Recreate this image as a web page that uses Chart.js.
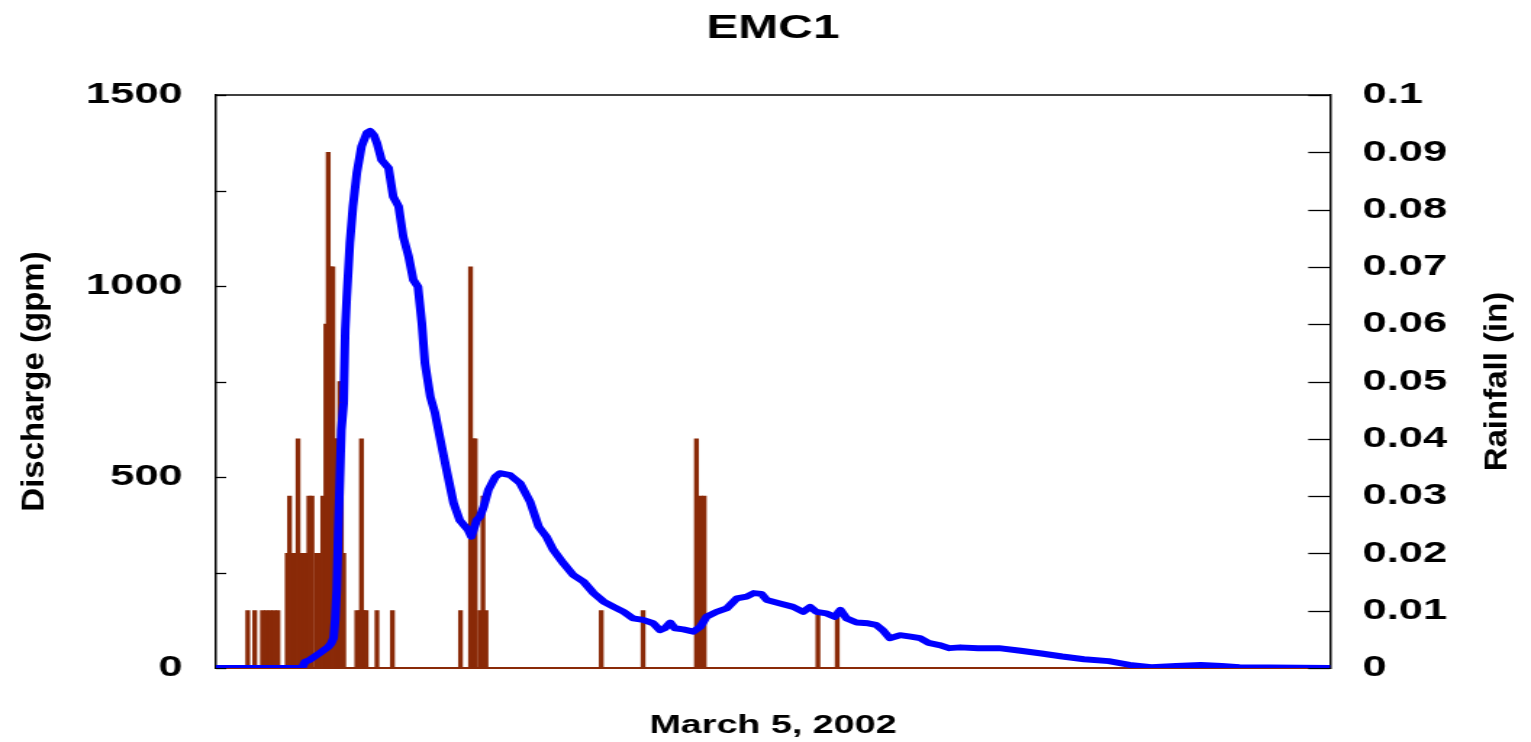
<!DOCTYPE html>
<html><head><meta charset="utf-8">
<script src="https://cdn.jsdelivr.net/npm/chart.js@4.4.1/dist/chart.umd.min.js"></script>
<style>
html,body{margin:0;padding:0;background:#fff;overflow:hidden}
#c{display:block;width:1531px !important;height:742px !important}
</style></head><body>
<canvas id="c" width="1056" height="742" style="width:1531px;height:742px"></canvas>
<script>
const chartTitle = 'EMC1';
const xAxisTitle = 'March 5, 2002';
const leftAxisTitle = 'Discharge (gpm)';
const rightAxisTitle = 'Rainfall (in)';

// time = minutes after midnight
const dischargeTimes = [0,111,115,121,134,145,149,152,154,156,158,160,162,165,167,169,173,177,182,188,195,199,204,208,214,223,229,236,242,249,255,261,266,270,277,283,290,298,307,315,326,330,337,341,346,352,361,367,380,393,406,417,427,436,449,462,475,488,501,514,527,539,552,565,574,580,587,593,604,617,626,634,647,660,673,686,695,705,712,729,746,759,768,776,789,800,807,815,828,843,853,862,871,884,898,910,921,935,948,962,985,1012,1040,1067,1094,1122,1154,1181,1209,1241,1273,1300,1323,1440];
const dischargeGpm = [0,0,16,21,39,55,65,79,126,204,361,492,623,694,885,971,1113,1208,1296,1365,1401,1406,1395,1374,1330,1309,1234,1208,1129,1077,1016,998,903,798,710,668,597,518,432,387,361,344,387,396,422,466,500,510,505,484,435,370,344,309,274,243,226,196,174,160,147,130,126,117,99,104,119,104,101,95,108,134,147,156,182,187,196,194,178,169,160,147,160,147,143,134,152,130,119,117,113,99,78,86,82,78,66,60,52,54,52,52,45,38,30,23,18,8,2,5,8,5,2,0];

const rainTimes = [41,50,60,65,70,75,80,92,95,98,102,106,110,114,117,120,124,130,134,138,142,145,148,151,154,157,160,162,165,182,186,188,191,194,208,228,316,329,333,335,341,345,349,498,552,621,626,631,778,803];
const rainInches = [0.01,0.01,0.01,0.01,0.01,0.01,0.01,0.02,0.03,0.02,0.02,0.04,0.02,0.02,0.02,0.03,0.03,0.02,0.02,0.03,0.06,0.09,0.07,0.07,0.04,0.04,0.05,0.05,0.02,0.01,0.01,0.04,0.01,0.01,0.01,0.01,0.01,0.07,0.04,0.04,0.01,0.03,0.01,0.01,0.01,0.04,0.03,0.03,0.01,0.01];

const dischargeTickLabels = ['0','','500','','1000','','1500'];
const rainTickLabels = ['0','0.01','0.02','0.03','0.04','0.05','0.06','0.07','0.08','0.09','0.1'];

const FONT = '"Liberation Sans", Arial, Helvetica, sans-serif';
const CW = 1056, S = 1531 / CW;
const BROWN = '#8a2a08';

function drawV(ctx, text, x, y) {
  ctx.save();
  ctx.translate(x, y);
  ctx.scale(1 / S, 1);
  ctx.rotate(-Math.PI / 2);
  ctx.fillText(text, 0, 0);
  ctx.restore();
}

const frame = {
  id: 'frame',
  beforeDatasetsDraw(chart) {
    const {ctx, chartArea: a, scales} = chart;
    ctx.save();
    ctx.strokeStyle = '#000';
    ctx.lineWidth = 1.5;
    ctx.beginPath(); ctx.moveTo(a.left, a.top); ctx.lineTo(a.right, a.top); ctx.stroke();
    ctx.lineWidth = 1.3;
    scales.y.ticks.forEach(t => {
      const p = Math.round(scales.y.getPixelForValue(t.value)) + 0.5;
      ctx.beginPath(); ctx.moveTo(a.left, p); ctx.lineTo(a.left + 7, p); ctx.stroke();
    });
    scales.y2.ticks.forEach(t => {
      const p = Math.round(scales.y2.getPixelForValue(t.value)) + 0.5;
      ctx.beginPath(); ctx.moveTo(a.right - 15, p); ctx.lineTo(a.right, p); ctx.stroke();
    });
    ctx.fillStyle = '#000';
    ctx.font = 'bold 33px ' + FONT;
    ctx.textAlign = 'center';
    ctx.textBaseline = 'alphabetic';
    const cy = (a.top + a.bottom) / 2;
    drawV(ctx, leftAxisTitle, 44 / S, cy);
    drawV(ctx, rightAxisTitle, 1507 / S, cy);
    ctx.restore();
  }
};

const canvas = document.getElementById('c');
new Chart(canvas, {
  data: {
    datasets: [
      {
        type: 'line', label: 'Discharge (gpm)',
        data: dischargeTimes.map((t, i) => ({x: t, y: dischargeGpm[i]})),
        yAxisID: 'y', borderColor: '#0000ff', backgroundColor: '#0000ff',
        borderWidth: 6, pointRadius: 0, tension: 0,
        borderJoinStyle: 'round', borderCapStyle: 'round', order: 0
      },
      {
        type: 'bar', label: 'Rainfall (in)',
        data: rainTimes.map((t, i) => ({x: t, y: rainInches[i]})),
        yAxisID: 'y2', backgroundColor: BROWN, borderWidth: 0,
        barThickness: 2.67, order: 1
      }
    ]
  },
  options: {
    responsive: false, devicePixelRatio: 1, animation: false,
    layout: {padding: 0},
    plugins: {
      legend: {display: false}, tooltip: {enabled: false},
      title: {
        display: true, text: chartTitle, fullSize: false, color: '#000',
        font: {family: FONT, size: 33, weight: 'bold', lineHeight: 1.2},
        padding: {top: 9, bottom: 46.4}
      }
    },
    scales: {
      x: {
        type: 'linear', min: 0, max: 1440, offset: false,
        grid: {display: false, drawTicks: false},
        border: {display: true, color: BROWN, width: 2},
        ticks: {display: false},
        title: {display: true, text: xAxisTitle, color: '#000',
          font: {family: FONT, size: 26, weight: 'bold', lineHeight: 1.2},
          padding: {top: 0, bottom: 1}},
        afterFit(s) { s.height = 74; }
      },
      y: {
        position: 'left', min: 0, max: 1500,
        grid: {display: false, drawTicks: false},
        border: {display: true, color: '#000', width: 1.5},
        ticks: {stepSize: 250, autoSkip: false, padding: 23, color: '#000',
          font: {family: FONT, size: 30, weight: 'bold'},
          callback: (v, i) => dischargeTickLabels[i] ?? ''},
        afterFit(s) { s.width = 149; }
      },
      y2: {
        position: 'right', min: 0, max: 0.1,
        grid: {display: false, drawTicks: false},
        border: {display: true, color: '#000', width: 1.5},
        ticks: {stepSize: 0.01, autoSkip: false, padding: 22.5, color: '#000',
          font: {family: FONT, size: 30, weight: 'bold'},
          callback: (v, i) => rainTickLabels[i] ?? ''},
        afterFit(s) { s.width = CW - 917.35; }
      }
    }
  },
  plugins: [frame]
});
canvas.style.width = '1531px';
canvas.style.height = '742px';
</script>
</body></html>
